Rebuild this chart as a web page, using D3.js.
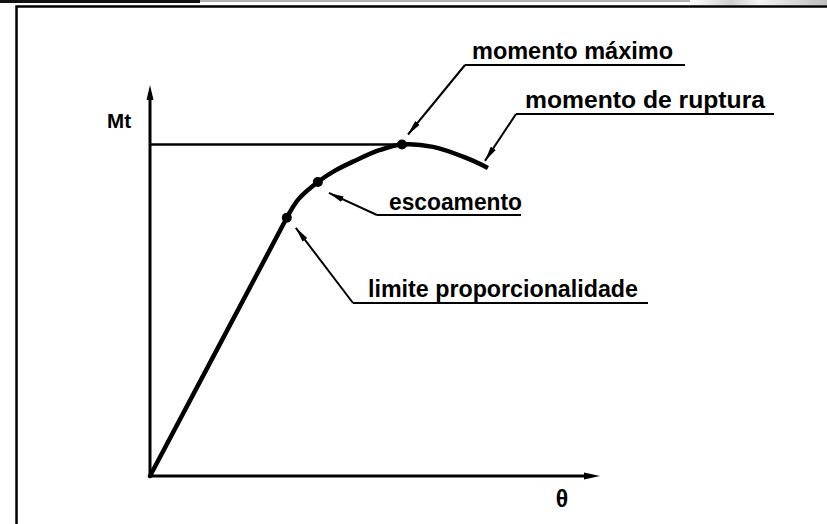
<!DOCTYPE html>
<html>
<head>
<meta charset="utf-8">
<script src="https://cdn.jsdelivr.net/npm/d3@7"></script>
<style>
  html, body { margin: 0; padding: 0; background: #fff; }
  svg { display: block; }
  .lbl { font-family: "Liberation Sans", Arial, sans-serif; font-weight: bold; fill: #000; }
</style>
</head>
<body>
<svg id="chart" width="827" height="524"></svg>
<script>
// M-theta curve (torque vs. twist angle), arbitrary units 0..100
var theta = [0, 15.2, 30.4, 33.0, 37.3, 41.1, 45.1, 51.1, 56.0, 62.9, 70.4, 75.1];
var moment = [0, 33.1, 66.2, 71.0, 75.4, 78.3, 80.6, 83.6, 85.0, 84.4, 81.5, 79.0];

// notable points on the curve (index into theta/moment)
var pointNames = ["limite proporcionalidade", "escoamento", "momento máximo", "momento de ruptura"];
var pointIndex = [2, 4, 8, 11];
var dotted = [true, true, true, false];

var axisLabels = ["Mt", "θ"];

var svg = d3.select("#chart"),
    x = d3.scaleLinear().domain([0, 100]).range([150, 600]),
    y = d3.scaleLinear().domain([0, 100]).range([476, 86]);

var curveData = theta.map(function (t, i) { return { t: t, m: moment[i] }; });
var notes = pointNames.map(function (n, i) {
    return { name: n, d: curveData[pointIndex[i]], dot: dotted[i] };
});

// leader layout: tip offset from point, elbow, underline end, text start/width/baseline
var layout = [
    { tip: [9, 10], elbow: [353, 303], end: 648, tx: 368, tw: 270, ty: 297 },
    { tip: [11, 11], elbow: [377, 215], end: 521, tx: 389, tw: 133, ty: 210 },
    { tip: [6, -10], elbow: [465, 65], end: 685, tx: 472, tw: 201, ty: 59 },
    { tip: [-3, -7], elbow: [516, 114], end: 774, tx: 525, tw: 240, ty: 108 }
];

var defs = svg.append("defs");
defs.append("marker")
    .attr("id", "arrow")
    .attr("viewBox", "0 0 15 7")
    .attr("refX", 15).attr("refY", 3.5)
    .attr("markerWidth", 15).attr("markerHeight", 7)
    .attr("markerUnits", "userSpaceOnUse")
    .attr("orient", "auto")
    .append("path").attr("d", "M0,0.5 L15,3.5 L0,6.5 Z").attr("fill", "#000");

var grad = defs.append("linearGradient").attr("id", "scan");
grad.append("stop").attr("offset", "0").attr("stop-color", "#fff");
grad.append("stop").attr("offset", "0.3").attr("stop-color", "#cfcfcf");
grad.append("stop").attr("offset", "0.5").attr("stop-color", "#f4f4f4");
grad.append("stop").attr("offset", "1").attr("stop-color", "#bdbdbd");

// page frame (scan edges)
svg.append("rect").attr("x", 690).attr("y", 0).attr("width", 137).attr("height", 5).attr("fill", "url(#scan)");
svg.append("rect").attr("x", 0).attr("y", 0).attr("width", 200).attr("height", 3).attr("fill", "#111");
svg.append("line").attr("x1", 200).attr("x2", 690).attr("y1", 1).attr("y2", 1)
    .attr("stroke", "#666").attr("stroke-width", 1.2);
svg.append("path").attr("d", "M16.5,524 V6.5 H827")
    .attr("fill", "none").attr("stroke", "#000").attr("stroke-width", 2.5);

// axes without ticks
var xAxis = svg.append("g").attr("transform", "translate(0," + y(0) + ")")
    .call(d3.axisBottom(x).tickValues([]).tickSizeOuter(0));
var yAxis = svg.append("g").attr("transform", "translate(" + x(0) + ",0)")
    .call(d3.axisLeft(y).tickValues([]).tickSizeOuter(0));
[xAxis, yAxis].forEach(function (a) {
    a.select(".domain").attr("stroke", "#000").attr("stroke-width", 3);
});
xAxis.select(".domain").attr("d", "M" + x(0) + ",0H" + (x(100) - 14));
yAxis.select(".domain").attr("d", "M0," + y(0) + "V" + (y(100) + 10));
// axis arrowheads
svg.append("path")
    .attr("d", "M" + (x(100) - 16) + "," + (y(0) - 3.5) + "L" + x(100) + "," + y(0) + "L" + (x(100) - 16) + "," + (y(0) + 3.5) + "Z");
svg.append("path")
    .attr("d", "M" + (x(0) - 3.5) + "," + (y(100) + 14) + "L" + x(0) + "," + (y(100) - 1) + "L" + (x(0) + 3.5) + "," + (y(100) + 14) + "Z");

svg.append("text").attr("class", "lbl").attr("x", 107).attr("y", 128)
    .attr("font-size", 20).attr("textLength", 24).attr("lengthAdjust", "spacingAndGlyphs")
    .text(axisLabels[0]);
svg.append("text").attr("class", "lbl").attr("x", 562).attr("y", 507)
    .attr("text-anchor", "middle").attr("font-size", 23)
    .text(axisLabels[1]);

// reference line at maximum moment
var maxPt = curveData[pointIndex[2]];
svg.append("line")
    .attr("x1", x(0)).attr("x2", x(maxPt.t))
    .attr("y1", y(maxPt.m)).attr("y2", y(maxPt.m))
    .attr("stroke", "#000").attr("stroke-width", 2.5);

// the curve: straight elastic part, then smooth plastic part
var lineFn = d3.line()
    .x(function (d) { return x(d.t); })
    .y(function (d) { return y(d.m); });

svg.append("path")
    .datum(curveData.slice(0, 3))
    .attr("fill", "none").attr("stroke", "#000").attr("stroke-width", 4.5)
    .attr("stroke-linecap", "round")
    .attr("d", lineFn);
svg.append("path")
    .datum(curveData.slice(2))
    .attr("fill", "none").attr("stroke", "#000").attr("stroke-width", 4.5)
    .attr("d", lineFn.curve(d3.curveCatmullRom.alpha(0.5)));

svg.selectAll(".dot")
    .data(notes.filter(function (n) { return n.dot; }))
    .enter().append("circle")
    .attr("class", "dot")
    .attr("cx", function (n) { return x(n.d.t); })
    .attr("cy", function (n) { return y(n.d.m); })
    .attr("r", 5)
    .attr("fill", "#000");

// leaders + labels
var g = svg.selectAll(".note")
    .data(notes)
    .enter().append("g").attr("class", "note");

g.append("path")
    .attr("fill", "none").attr("stroke", "#000").attr("stroke-width", 2)
    .attr("marker-end", "url(#arrow)")
    .attr("d", function (n, i) {
        var l = layout[i];
        return "M" + l.elbow[0] + "," + l.elbow[1] +
            "L" + (x(n.d.t) + l.tip[0]) + "," + (y(n.d.m) + l.tip[1]);
    });

g.append("line")
    .attr("stroke", "#000").attr("stroke-width", 2)
    .attr("x1", function (n, i) { return layout[i].elbow[0]; })
    .attr("x2", function (n, i) { return layout[i].end; })
    .attr("y1", function (n, i) { return layout[i].elbow[1]; })
    .attr("y2", function (n, i) { return layout[i].elbow[1]; });

g.append("text")
    .attr("class", "lbl")
    .attr("font-size", 23)
    .attr("x", function (n, i) { return layout[i].tx; })
    .attr("y", function (n, i) { return layout[i].ty; })
    .attr("textLength", function (n, i) { return layout[i].tw; })
    .attr("lengthAdjust", "spacingAndGlyphs")
    .text(function (n) { return n.name; });
</script>
</body>
</html>
